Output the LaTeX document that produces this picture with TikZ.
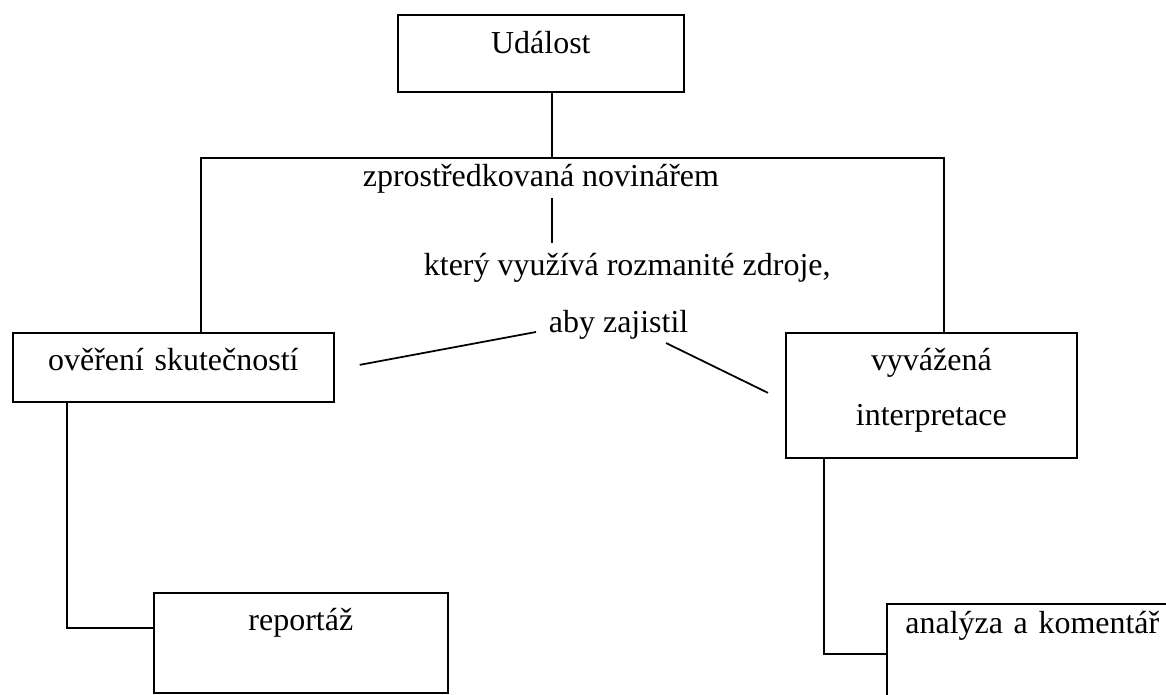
\documentclass[tikz,border=0pt]{standalone}
\usepackage{fontspec}
\setmainfont{Liberation Serif}
\usetikzlibrary{positioning, calc}
\tikzset{
    box/.style ={rectangle, draw, inner sep=0pt, anchor=north west, align=center},
    lbl/.style ={inner sep=0pt, anchor=base west, text height=0.46cm, text depth=0.14cm}
    }

\begin{document}
\begin{tikzpicture}[
      x = 0.02cm, y = -0.02cm, % one unit per pixel
      line width = 1pt,
      font = \fontsize{18.2}{22}\selectfont
    ]
    \useasboundingbox (0,0) rectangle (1166,695);

    \node[box, text width=5.72cm, text height=0.78cm, text depth=0.76cm] (ev) at (397,14) {Událost};

    \node[lbl] (zpr) at (362,187) {zprostředkovaná novinářem};
    \node[lbl] (kt) at (423,276) {který využívá rozmanité zdroje,};
    \node[lbl] (aby) at (548,333) {aby zajistil};

    \node[box, text width=6.42cm, text height=0.76cm, text depth=0.62cm] (ver) at (12,332) {ověření skutečností};
    \node[box, text width=5.82cm, text height=0.76cm, text depth=1.74cm] (int) at (785,332) {vyvážená\\[9pt]interpretace};

    \node[box, text width=5.88cm, text height=0.76cm, text depth=1.24cm] (rep) at (153,592) {reportáž};
    \node[box, text width=5.82cm, text height=0.60cm, text depth=1.40cm] (ana) at (886,603) {analýza a komentář};

    \coordinate (j) at (552,158);
    \coordinate (tl) at (201,158);
    \coordinate (tr) at (944,158);

    \draw (ev.south -| j) -- (j);
    \draw (ver.north -| tl) -- (tl) -- (tr) -- (int.north -| tr);
    \draw[shorten <=0.06cm, shorten >=0.18cm] (zpr.south -| j) -- (kt.north -| j);

    \draw ($(ver.east)+(25,-2.5)$) -- ($(aby.base west)+(-12,-1)$);
    \draw ($(aby.base west)+(118,10)$) -- ($(int.west)+(-17,-2.5)$);

    \draw ($(ver.south west)+(55,0)$) |- ($(rep.west)+(0,-15)$);
    \draw ($(int.south west)+(39,0)$) |- (ana.west);
\end{tikzpicture}
\end{document}
